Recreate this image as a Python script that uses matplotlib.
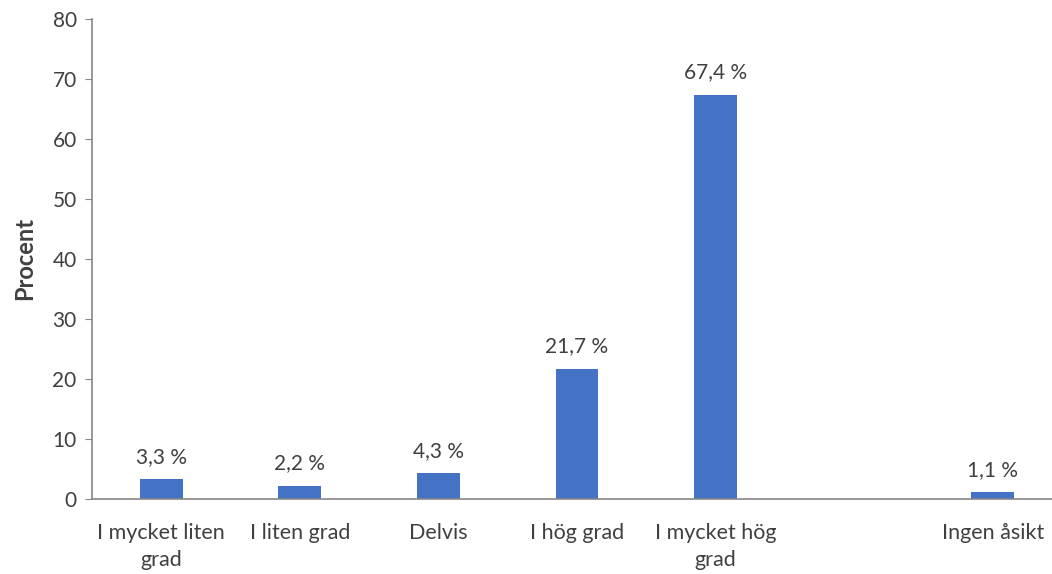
import matplotlib
matplotlib.use("Agg")
import matplotlib.pyplot as plt
import numpy as np

categories = ["I mycket liten\ngrad", "I liten grad", "Delvis", "I hög grad",
              "I mycket hög\ngrad", "", "Ingen åsikt"]
values = [3.3, 2.2, 4.3, 21.7, 67.4, np.nan, 1.1]
y_ticks = [0, 10, 20, 30, 40, 50, 60, 70, 80]

plt.rcParams["font.family"] = ["Lato", "DejaVu Sans"]
text_color = "#404040"
bar_color = "#4472C4"

fig = plt.figure(figsize=(10.52, 5.74), dpi=100)
ax = fig.add_axes([92 / 1052, 1 - 499 / 574, 970 / 1052, 480 / 574])

x = np.arange(len(categories))
ax.bar(x, values, width=0.31, color=bar_color, zorder=2)

for xi, v in zip(x, values):
    if np.isnan(v):
        continue
    label = f"{v:.1f} %".replace(".", ",")
    ax.annotate(label, (xi, v), xytext=(0, 9), textcoords="offset points",
                ha="center", va="bottom", fontsize=15, color=text_color)

ax.set_xlim(-0.5, len(categories) - 0.5)
ax.set_ylim(0, 80)
ax.set_yticks(y_ticks)
ax.set_xticks(x)
ax.set_xticklabels(categories, fontsize=15.5, color=text_color, linespacing=1.45)
ax.tick_params(axis="x", length=0, pad=17)
ax.tick_params(axis="y", length=5, color="#868686", labelsize=15, labelcolor=text_color, pad=6)
ax.set_ylabel("Procent", fontsize=17, fontweight="bold", color=text_color, labelpad=12)

for side in ["top", "right"]:
    ax.spines[side].set_visible(False)
for side in ["left", "bottom"]:
    ax.spines[side].set_color("#868686")
    ax.spines[side].set_linewidth(1.2)

fig.savefig("out.png", dpi=100)
